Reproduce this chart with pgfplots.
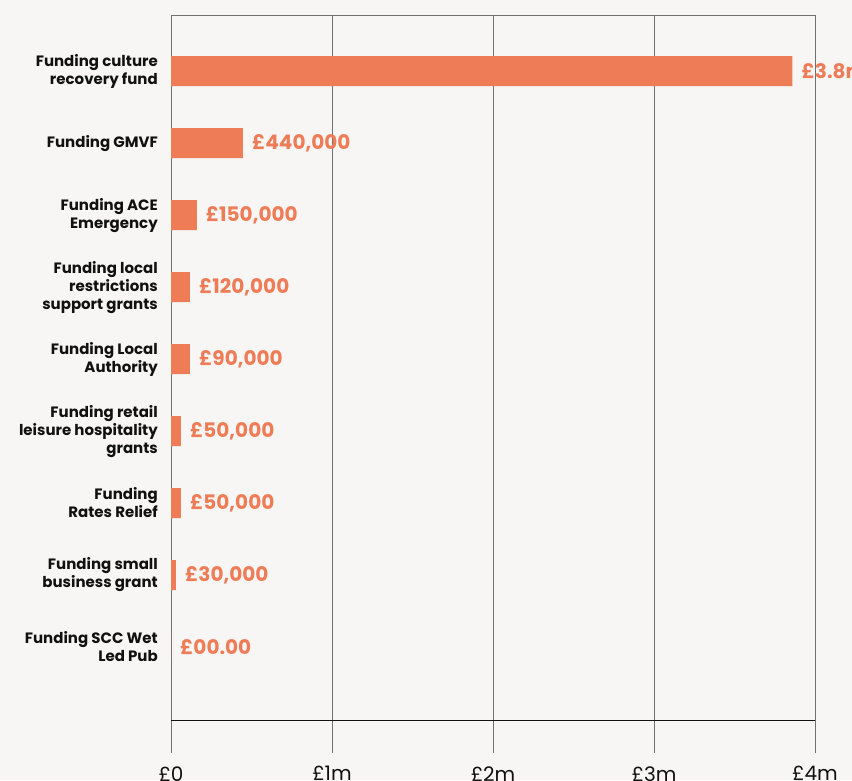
\documentclass[border=0pt]{standalone}
\usepackage{pgfplots}
\pgfplotsset{compat=1.18}
\usepackage{pgfplotstable}
\usepackage{fontspec}
\setmainfont{Poppins}

\definecolor{bg}{HTML}{F7F6F4}
\definecolor{barc}{HTML}{EE7C57}
\definecolor{gridc}{HTML}{707070}
\definecolor{inkc}{HTML}{111111}

% value in millions, position from bottom (0) to top (8)
\pgfplotstableread{
pos val label
8 3.86 £3.8m
7 0.447 £440,000
6 0.160 £150,000
5 0.118 £120,000
4 0.118 £90,000
3 0.062 £50,000
2 0.062 £50,000
1 0.031 £30,000
0 0 £00.00
}\funding

\begin{document}
\begin{tikzpicture}[x=1pt,y=1pt]
\useasboundingbox (0,0) rectangle (852,780);
\fill[bg] (0,0) rectangle (852,780);
\clip (0,0) rectangle (852,780);
\begin{axis}[
  at={(171pt,60pt)}, anchor=south west,
  scale only axis, width=644pt, height=705pt,
  xmin=0, xmax=4, ymin=-1.014, ymax=8.78,
  clip=false,
  axis line style={draw=gridc, line width=0.9pt},
  xmajorgrids, grid style={draw=gridc, line width=0.9pt},
  xtick={0,1,2,3,4},
  xticklabels={£0,£1m,£2m,£3m,£4m},
  tick align=outside, tick pos=bottom,
  xtick style={draw=gridc, line width=0.9pt},
  major tick length=33pt,
  xticklabel style={font=\fontsize{20}{24}\selectfont, text=inkc, yshift=-10pt},
  ytick={0,...,8},
  yticklabels={
    {Funding SCC Wet\\Led Pub},
    {Funding small\\business grant},
    {Funding\\Rates Relief},
    {Funding retail\\leisure hospitality\\grants},
    {Funding Local\\Authority},
    {Funding local\\restrictions\\support grants},
    {Funding ACE\\Emergency},
    {Funding GMVF},
    {Funding culture\\recovery fund}},
  ytick style={draw=none},
  yticklabel style={align=right, anchor=east, inner sep=0pt, xshift=20pt,
    font=\bfseries\fontsize{15}{18}\selectfont, text=inkc},
]
\addplot[xbar, bar width=30pt, bar shift=0pt, fill=barc, draw=none,
  point meta=explicit symbolic,
  nodes near coords,
  every node near coord/.append style={anchor=west, inner sep=0pt, xshift=9pt,
    font=\bfseries\fontsize{20}{22}\selectfont, text=barc}]
  table[x=val, y=pos, meta=label] {\funding};
\draw[inkc, line width=1pt] (rel axis cs:0,0) -- (rel axis cs:1,0);
\end{axis}
\end{tikzpicture}
\end{document}
